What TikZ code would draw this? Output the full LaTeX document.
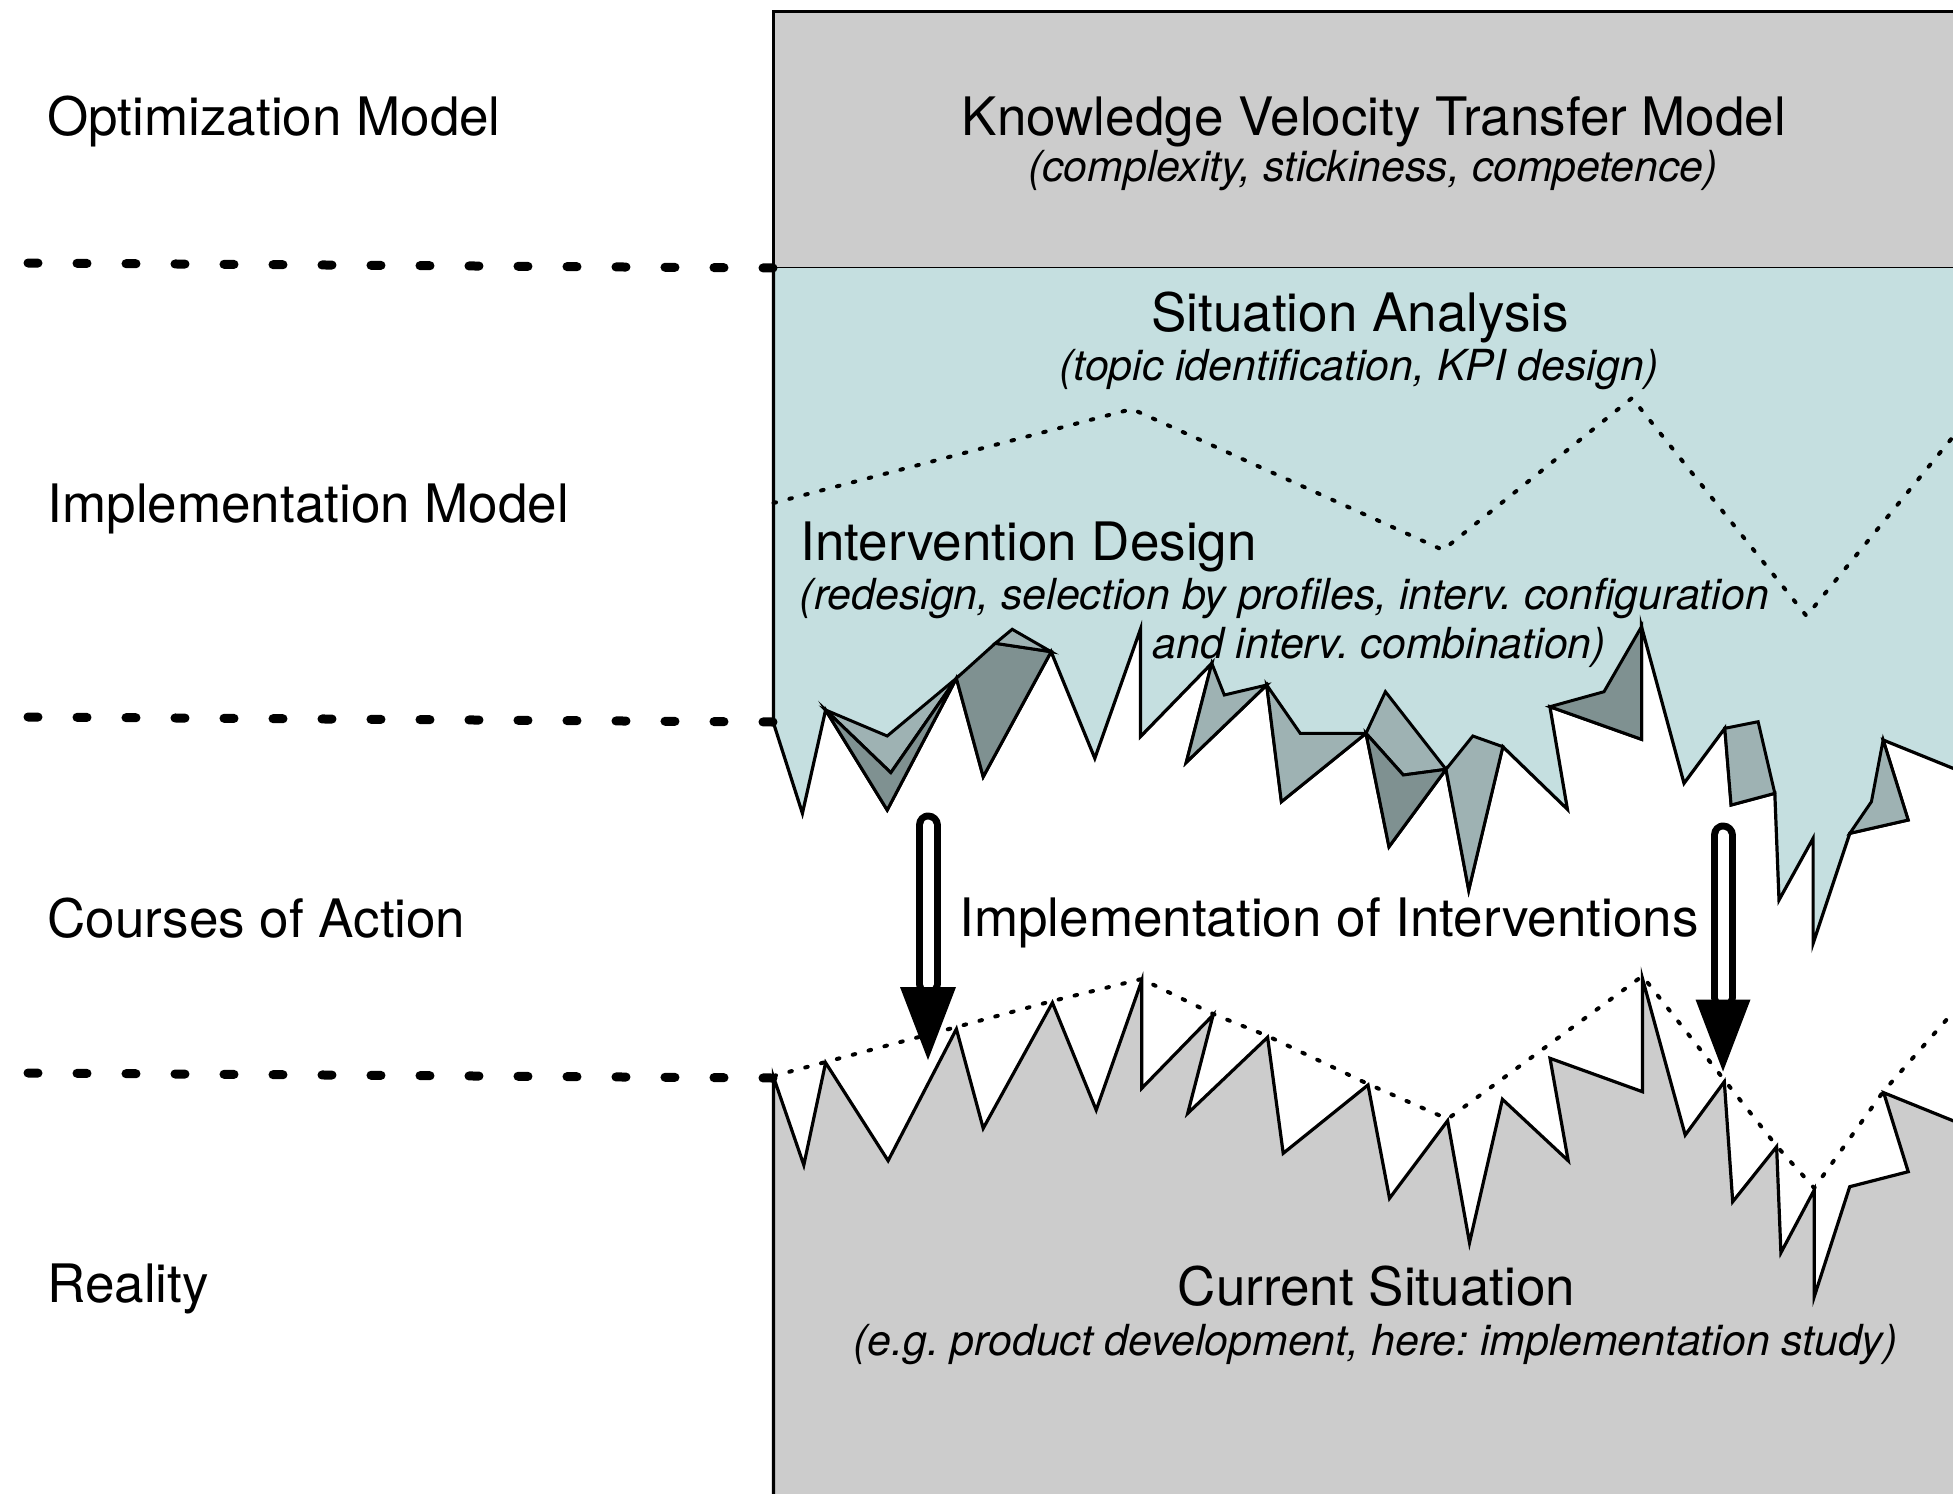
\documentclass[tikz,border=0pt]{standalone}
\usepackage{fontspec}
\setmainfont{TeX Gyre Heros}
\frenchspacing
\definecolor{boxgray}{RGB}{204,204,204}
\definecolor{paleblue}{RGB}{197,223,224}
\definecolor{facetlight}{RGB}{158,178,179}
\definecolor{facetdark}{RGB}{127,145,145}
\begin{document}
\begin{tikzpicture}[x=0.5pt,y=-0.5pt,
  outline/.style={line width=1.5pt},
  jag/.style={line width=1.6pt},
  sepline/.style={line width=4.5pt, line cap=round, dash pattern=on 5pt off 19.5pt},
  dotline/.style={line width=2pt, line cap=round, dash pattern=on 1.3pt off 6.9pt},
  lightfacet/.style={fill=facetlight, draw=black, line width=1.5pt},
  darkfacet/.style={fill=facetdark, draw=black, line width=1.5pt},
  lbl/.style={anchor=base west, inner sep=0pt, font=\fontsize{26.5}{30}\selectfont},
  ttl/.style={anchor=base, inner sep=0pt, font=\fontsize{26.5}{30}\selectfont},
  ttlw/.style={anchor=base west, inner sep=0pt, font=\fontsize{26.5}{30}\selectfont},
  sub/.style={anchor=base, inner sep=0pt, font=\fontsize{21.4}{25}\selectfont\itshape},
  subw/.style={anchor=base west, inner sep=0pt, font=\fontsize{21.4}{25}\selectfont\itshape},
  shaftout/.style={line width=12.5pt, line cap=round},
  shaftin/.style={white, line width=5.5pt, line cap=round}]
\useasboundingbox (0,0) rectangle (1953,1493);
\clip (0,0) rectangle (1953,1493);

% ---------- top box ----------
\fill[boxgray] (773.5,11.7) rectangle (1970,268);
\draw[outline] (1970,11.7) -- (773.5,11.7) -- (773.5,268) -- (1970,268);

% ---------- blue region ----------
\fill[paleblue] (773.5,268) -- (773.5,723) -- (802.4,813.3) -- (825.6,710) -- (887.2,810) -- (956.4,678.3) -- (983.2,776.7) -- (1051.1,651.7) -- (1094.8,758.3) -- (1140.4,629.3) -- (1140.4,736.7) -- (1211.8,663.3) -- (1186.3,762.3) -- (1266.7,685) -- (1281.4,801.7) -- (1366,733.3) -- (1389,846.7) -- (1446,769.3) -- (1468.7,890) -- (1502.8,746.7) -- (1567.4,809.3) -- (1549.9,706.7) -- (1641.5,739.3) -- (1641.5,626.7) -- (1684,783.3) -- (1724.8,728.3) -- (1731.1,805) -- (1774.8,793.3) -- (1779,900) -- (1813.1,838.3) -- (1813.1,943.3) -- (1849.8,833.3) -- (1908.1,820) -- (1883.1,740) -- (1970,775.2) -- (1970,268) -- cycle;
\draw[jag] (773.5,268) -- (773.5,723) -- (802.4,813.3) -- (825.6,710) -- (887.2,810) -- (956.4,678.3) -- (983.2,776.7) -- (1051.1,651.7) -- (1094.8,758.3) -- (1140.4,629.3) -- (1140.4,736.7) -- (1211.8,663.3) -- (1186.3,762.3) -- (1266.7,685) -- (1281.4,801.7) -- (1366,733.3) -- (1389,846.7) -- (1446,769.3) -- (1468.7,890) -- (1502.8,746.7) -- (1567.4,809.3) -- (1549.9,706.7) -- (1641.5,739.3) -- (1641.5,626.7) -- (1684,783.3) -- (1724.8,728.3) -- (1731.1,805) -- (1774.8,793.3) -- (1779,900) -- (1813.1,838.3) -- (1813.1,943.3) -- (1849.8,833.3) -- (1908.1,820) -- (1883.1,740) -- (1970,775.2);

% facets
\path[lightfacet] (825.6,710) -- (887.2,736) -- (956.4,678.3) -- (890.8,772.7) -- cycle;
\path[darkfacet] (825.6,710) -- (890.8,772.7) -- (956.4,678.3) -- (887.2,810) -- cycle;
\path[darkfacet] (956.4,678.3) -- (995.3,643.3) -- (1051.1,651.7) -- (983.2,776.7) -- cycle;
\path[lightfacet] (995.3,643.3) -- (1012.2,629.3) -- (1051.1,651.7) -- cycle;
\path[lightfacet] (1211.8,663.3) -- (1224.3,695) -- (1266.7,685) -- (1186.3,762.3) -- cycle;
\path[lightfacet] (1266.7,685) -- (1300.2,733.3) -- (1366,733.3) -- (1281.4,801.7) -- cycle;
\path[lightfacet] (1366,733.3) -- (1385.4,691.7) -- (1446,769.3) -- (1403.3,775) -- cycle;
\path[darkfacet] (1366,733.3) -- (1403.3,775) -- (1446,769.3) -- (1389,846.7) -- cycle;
\path[lightfacet] (1446,769.3) -- (1472.8,736) -- (1502.8,746.7) -- (1468.7,890) -- cycle;
\path[darkfacet] (1549.9,706.7) -- (1604,691.7) -- (1641.5,626.7) -- (1641.5,739.3) -- cycle;
\path[lightfacet] (1724.8,728.3) -- (1758.1,721.7) -- (1774.8,793.3) -- (1731.1,805) -- cycle;
\path[lightfacet] (1849.8,833.3) -- (1871.4,801.7) -- (1883.1,740) -- (1908.1,820) -- cycle;

% dotted separator inside blue region
\draw[dotline] (773.5,503) -- (1132,409) -- (1443,550) -- (1632,398) -- (1806.5,616) -- (1970,416);

% ---------- bottom gray region ----------
\fill[boxgray] (773.5,1077) -- (803.8,1165) -- (825.6,1062.7) -- (888.1,1160.7) -- (956.4,1029) -- (983.2,1128.3) -- (1052.4,1002.7) -- (1096.2,1110) -- (1141.7,980.7) -- (1141.7,1088.3) -- (1213.1,1015) -- (1187.7,1113.3) -- (1267.6,1037.3) -- (1283.2,1153.3) -- (1368,1085) -- (1389.5,1198.3) -- (1447.6,1120.7) -- (1469.5,1242.7) -- (1502.4,1099.3) -- (1568.2,1160.7) -- (1550,1058.3) -- (1642.4,1091.7) -- (1642.4,978.3) -- (1685.2,1135) -- (1724.3,1081.7) -- (1732.7,1201.7) -- (1776.6,1146.7) -- (1780.9,1252.7) -- (1814.2,1190) -- (1814.2,1296.7) -- (1849.7,1186.7) -- (1908.2,1171.7) -- (1883.7,1092.7) -- (1970,1127.6) -- (1970,1500) -- (773.5,1500) -- cycle;
\draw[jag] (773.5,1500) -- (773.5,1077) -- (803.8,1165) -- (825.6,1062.7) -- (888.1,1160.7) -- (956.4,1029) -- (983.2,1128.3) -- (1052.4,1002.7) -- (1096.2,1110) -- (1141.7,980.7) -- (1141.7,1088.3) -- (1213.1,1015) -- (1187.7,1113.3) -- (1267.6,1037.3) -- (1283.2,1153.3) -- (1368,1085) -- (1389.5,1198.3) -- (1447.6,1120.7) -- (1469.5,1242.7) -- (1502.4,1099.3) -- (1568.2,1160.7) -- (1550,1058.3) -- (1642.4,1091.7) -- (1642.4,978.3) -- (1685.2,1135) -- (1724.3,1081.7) -- (1732.7,1201.7) -- (1776.6,1146.7) -- (1780.9,1252.7) -- (1814.2,1190) -- (1814.2,1296.7) -- (1849.7,1186.7) -- (1908.2,1171.7) -- (1883.7,1092.7) -- (1970,1127.6);

% dotted envelope over bottom region
\draw[dotline] (773.5,1076) -- (825.6,1062) -- (956.4,1027) -- (1052.4,1001) -- (1141.7,979) -- (1213.1,1014) -- (1267.6,1036) -- (1368,1084) -- (1447.6,1119) -- (1642.4,976) -- (1724.3,1080) -- (1776.6,1146) -- (1814.2,1188) -- (1883.7,1091) -- (1970,993);

% ---------- left separators ----------
\draw[sepline] (28,263) -- (773,268);
\draw[sepline] (28,717) -- (773,722);
\draw[sepline] (28,1073) -- (773,1078);

% ---------- texts ----------
\node[lbl] (optm) at (47,135) {Optimization Model};
\node[lbl] (implm) at (47,522) {Implementation Model};
\node[lbl] (coa) at (47,937) {Courses of Action};
\node[lbl] (real) at (47,1302) {Reality};

\node[ttl] (kvt) at (1374,135) {Knowledge Velocity Transfer Model};
\node[sub] (kvtsub) at (1373,181.5) {(complexity, stickiness, competence)};
\node[ttl] (sa) at (1360,331.5) {Situation Analysis};
\node[sub] (sasub) at (1359,380.5) {(topic identification, KPI design)};
\node[ttlw] (idn) at (800,560) {Intervention Design};
\node[subw] (idsub) at (799.5,609) {(redesign, selection by profiles, interv. configuration};
\node[subw] (idsub2) at (1152,658) {and interv. combination)};
\node[ttl] (ioi) at (1329,936) {Implementation of Interventions};
\node[ttl] (cs) at (1376.5,1305) {Current Situation};
\node[sub] (cssub) at (1375.5,1355) {(e.g. product development, here: implementation study)};

% ---------- arrows ----------
\coordinate (a1s) at (928,825);
\coordinate (a1e) at (928,1060);
\coordinate (a2s) at (1723,835);
\coordinate (a2e) at (1723,1071.5);
\draw[shaftout] (a1s) -- ([yshift=38pt]a1e);
\draw[shaftin] (a1s) -- ([yshift=38pt]a1e);
\fill ([yshift=36.5pt,xshift=-14pt]a1e) -- ([yshift=36.5pt,xshift=14pt]a1e) -- (a1e) -- cycle;
\draw[shaftout] (a2s) -- ([yshift=37pt]a2e);
\draw[shaftin] (a2s) -- ([yshift=37pt]a2e);
\fill ([yshift=36pt,xshift=-13.75pt]a2e) -- ([yshift=36pt,xshift=13.75pt]a2e) -- (a2e) -- cycle;
\end{tikzpicture}
\end{document}
